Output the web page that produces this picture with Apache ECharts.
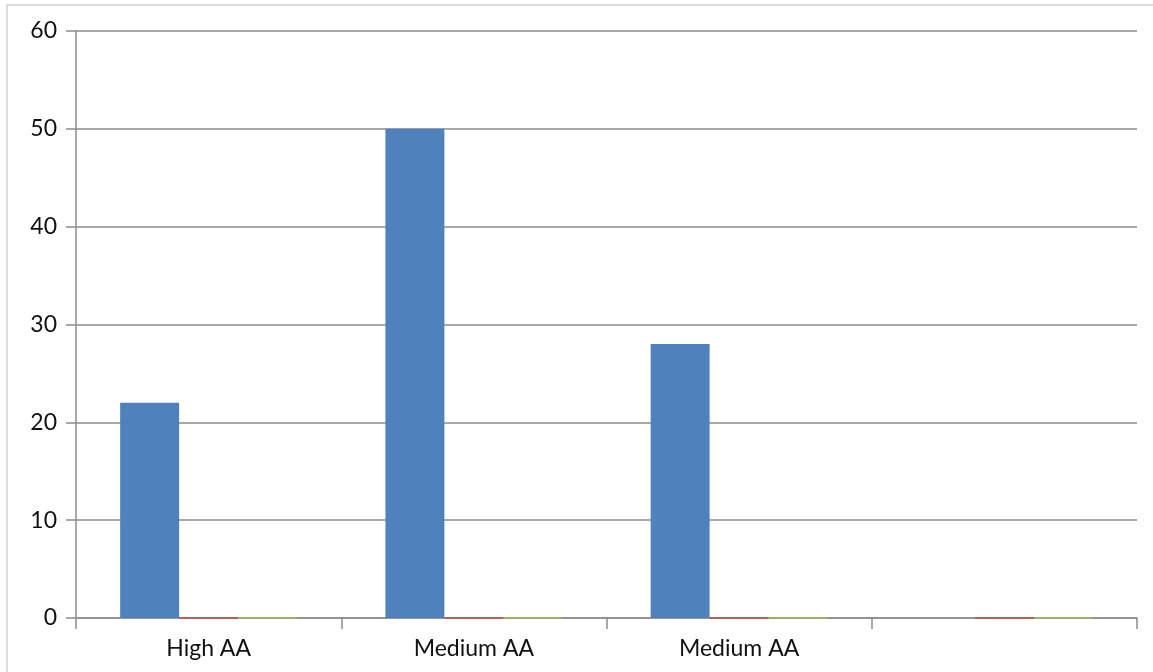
<!DOCTYPE html>
<html>
<head>
<meta charset="utf-8">
<style>
  html, body { margin: 0; padding: 0; background: #fff; }
  #chart { width: 1153px; height: 672px; }
</style>
<script src="https://cdn.jsdelivr.net/npm/echarts@6/dist/echarts.min.js"></script>
</head>
<body>
<div id="chart"></div>
<script>
// Categories along the x axis (last slot has no label)
const categories = ['High AA', 'Medium AA', 'Medium AA', ''];

// Series values per category
const seriesBlue = [22, 50, 28, null];
const seriesRed = [0, 0, 0, 0];
const seriesGreen = [0, 0, 0, 0];

// Value axis range
const yMin = 0;
const yMax = 60;
const yStep = 10;

const axisGray = '#8c8c8c';
const font = 'Lato, "Open Sans", sans-serif';

const chart = echarts.init(document.getElementById('chart'), null, { renderer: 'canvas' });

function barSeries(name, data, color) {
  return {
    name: name,
    type: 'bar',
    data: data,
    barGap: '0%',
    barCategoryGap: '33.3%',
    z: 5,
    // thin outline in the fill colour keeps zero-value bars visible as a line
    itemStyle: { color: color, borderColor: color, borderWidth: 1.5 },
    emphasis: { disabled: true },
    animation: false
  };
}

chart.setOption({
  animation: false,
  backgroundColor: '#ffffff',
  graphic: [{
    type: 'rect',
    shape: { x: 7, y: 5, width: 1200, height: 700 },
    style: { fill: 'none', stroke: '#dcdcdc', lineWidth: 2 },
    z: -1
  }],
  grid: { left: 76, right: 16, top: 31, bottom: 54, containLabel: false },
  xAxis: {
    type: 'category',
    data: categories,
    axisLine: { show: true, lineStyle: { color: axisGray, width: 1.5 } },
    axisTick: { show: true, alignWithLabel: false, length: 11, lineStyle: { color: axisGray, width: 1.5 } },
    axisLabel: { color: '#111', fontFamily: font, fontSize: 23, margin: 19 },
    splitLine: { show: false }
  },
  yAxis: {
    type: 'value',
    min: yMin,
    max: yMax,
    interval: yStep,
    axisLine: { show: true, lineStyle: { color: axisGray, width: 1.5 } },
    axisTick: { show: true, length: 10, lineStyle: { color: axisGray, width: 1.5 } },
    axisLabel: { color: '#111', fontFamily: font, fontSize: 23, margin: 19 },
    splitLine: { show: true, lineStyle: { color: axisGray, width: 1.5 } }
  },
  series: [
    barSeries('Series 1', seriesBlue, '#4f81bd'),
    barSeries('Series 2', seriesRed, '#c0504d'),
    barSeries('Series 3', seriesGreen, '#9bbb59')
  ]
});
</script>
</body>
</html>
